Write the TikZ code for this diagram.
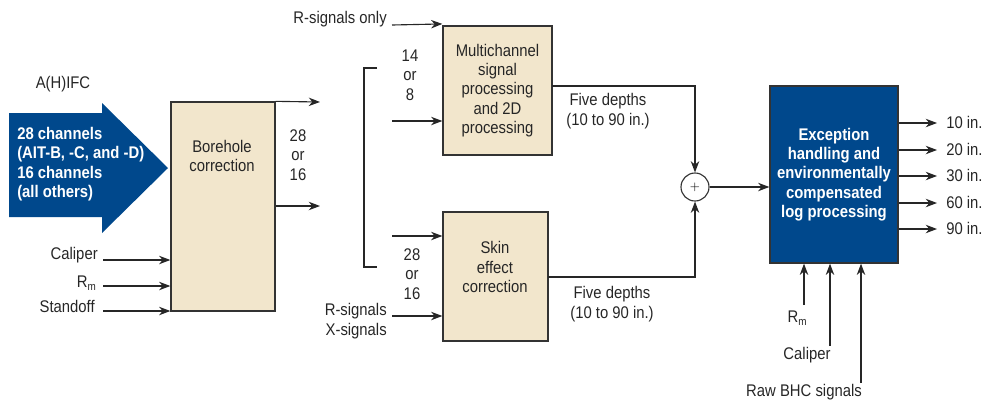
\documentclass[tikz,border=0pt]{standalone}
\usepackage{fontspec}
\setmainfont{Liberation Sans}[FakeStretch=0.88]
\usetikzlibrary{arrows.meta}
\usetikzlibrary{positioning}
\definecolor{boxbeige}{RGB}{242,230,204}
\definecolor{logblue}{RGB}{0,72,140}
\tikzset{
    box/.style={
        rectangle,
        draw=black!80,
        fill=boxbeige,
        line width=0.9pt,
        inner sep=0pt
    },
    logbox/.style={
        rectangle,
        draw=black!80,
        fill=logblue,
        line width=0.9pt,
        text=white,
        align=center,
        font=\fontsize{12}{13.8}\selectfont\bfseries
    },
    arrow/.style={
        -{Stealth[length=8pt,width=6pt,inset=2.5pt]},
        line width=0.8pt,
        draw=black!85
    },
    lbl/.style={
        align=center,
        inner sep=0pt,
        text=black!85,
        font=\fontsize{12}{13.8}\selectfont
    }
}

\begin{document}
\begin{tikzpicture}[x=0.025cm, y=-0.025cm]
        \useasboundingbox (0,0) rectangle (984,403);

        % Input arrow
        \fill [logblue] (9,113) -- (102,113) -- (102,103) -- (168,168) -- (102,233) -- (102,217) -- (9,217) -- cycle;
        \node (chan) [lbl, align=left, anchor=west, text=white, font=\fontsize{12}{13.8}\selectfont\bfseries] at (17,164) {28 channels\\(AIT-B, -C, and -D)\\16 channels\\(all others)};
        \node (aifc) [lbl] at (63,84) {A(H)IFC};

        % Borehole correction
        \node (bhc) [box, minimum width=2.6cm, minimum height=5.225cm] at (223,206.5) {};
        \node (bhc_text) [lbl] at (222,156) {Borehole\\correction};
        \node (bhc_n) [lbl] at (298,155) {28\\or\\16};

        % Borehole inputs
        \node (cal1) [lbl, anchor=east] at (98,255) {Caliper};
        \node (rm1) [lbl, anchor=east] at (98,283) {R$_\mathrm{m}$};
        \node (stand) [lbl, anchor=east] at (95,306) {Standoff};
        \coordinate (cal1_in) at (103,260);
        \coordinate (rm1_in) at (103,286);
        \coordinate (stand_in) at (103,311);

        % Borehole outputs
        \coordinate (bhc_out1) at (320,102);
        \coordinate (bhc_out2) at (320,206);

        % Multichannel processing
        \node (mcp) [box, minimum width=2.725cm, minimum height=3.225cm, align=center, lbl] at (497.5,90.5) {Multichannel\\signal\\processing\\and 2D\\processing};
        \node (ronly) [lbl, anchor=east] at (387,19) {R-signals only};
        \node (mcp_n) [lbl] at (410,75) {14\\or\\8};
        \coordinate (ronly_in) at (392,25);
        \coordinate (mcp_in) at (392,121);
        \coordinate (mcp_out) at (552,86);

        % Skin effect correction
        \node (sec) [box, minimum width=2.625cm, minimum height=3.225cm] at (495.5,276.5) {};
        \node (sec_text) [lbl] at (495,267) {Skin\\effect\\correction};
        \node (sec_n) [lbl] at (412,274) {28\\or\\16};
        \node (rx) [lbl, anchor=east, align=right] at (387,321) {R-signals\\X-signals};
        \coordinate (rx_in) at (392,316);
        \coordinate (sec_in) at (392,236);
        \coordinate (sec_out) at (548,277);

        % Bracket
        \draw [line width=0.8pt, black!85] (377,68) -- (364,68) -- (364,267) -- (377,267);

        % Summation
        \node (sum) [circle, draw=black!80, line width=0.8pt, fill=white, minimum size=0.7cm, inner sep=0pt, font=\fontsize{9}{9}\selectfont] at (695,187) {$+$};
        \node (depth1) [lbl] at (608,111) {Five depths\\(10 to 90 in.)};
        \node (depth2) [lbl] at (612,304) {Five depths\\(10 to 90 in.)};

        % Log processing
        \node (log) [logbox, minimum width=3.2cm, minimum height=4.425cm] at (834,174.5) {Exception\\handling and\\environmentally\\compensated\\log processing};

        % Depth outputs
        \foreach \d/\y in {10/123, 20/150, 30/176, 60/203, 90/229} {
            \coordinate (out\d) at (937,\y);
            \node (lbl\d) [lbl, anchor=west] at (946,\y-1) {\d\ in.};
            \draw [arrow] (log.east |- out\d) -- (out\d);
        }

        % Log inputs
        \node (rm2) [lbl] at (798,318) {R$_\mathrm{m}$};
        \node (cal2) [lbl] at (807,355) {Caliper};
        \node (raw) [lbl] at (804,392) {Raw BHC signals};
        \coordinate (rm2_in) at (804,305);
        \coordinate (cal2_in) at (830,346);
        \coordinate (raw_in) at (861,383);

        % Arrows
        \draw [arrow] (cal1_in) -- (cal1_in -| bhc.west);
        \draw [arrow] (rm1_in) -- (rm1_in -| bhc.west);
        \draw [arrow] (stand_in) -- (stand_in -| bhc.west);
        \draw [arrow] (bhc.north east) -- (bhc_out1);
        \draw [arrow] (bhc_out2 -| bhc.east) -- (bhc_out2);
        \draw [arrow] (ronly_in) -- ([yshift=1pt]mcp.north west);
        \draw [arrow] (mcp_in) -- (mcp_in -| mcp.west);
        \draw [arrow] (sec_in) -- (sec_in -| sec.west);
        \draw [arrow] (rx_in) -- (rx_in -| sec.west);
        \draw [arrow] (mcp_out) -| (sum.north);
        \draw [arrow] (sec_out) -| (sum.south);
        \draw [arrow] (sum.east) -- (sum.east -| log.west);
        \draw [arrow] (rm2_in) -- (rm2_in |- log.south);
        \draw [arrow] (cal2_in) -- (cal2_in |- log.south);
        \draw [arrow] (raw_in) -- (raw_in |- log.south);

    \end{tikzpicture}
\end{document}
